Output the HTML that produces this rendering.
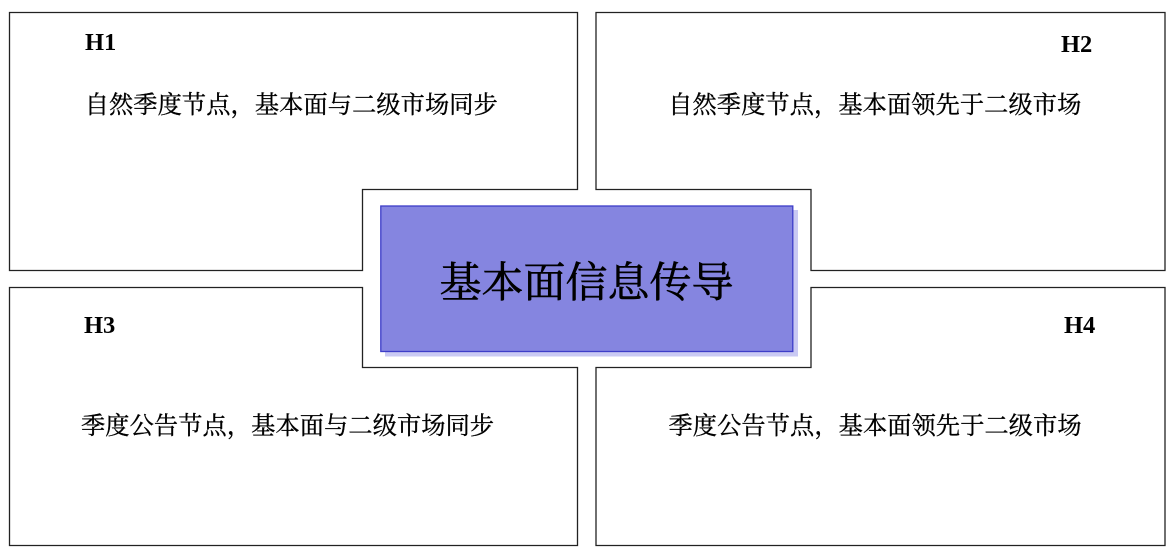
<!DOCTYPE html>
<html><head><meta charset="utf-8"><style>
html,body{margin:0;padding:0;background:#fff;width:1173px;height:549px;overflow:hidden}
svg{display:block}
.c{font-family:"Noto Serif CJK SC","Liberation Serif",serif;font-size:24.2px;letter-spacing:.12px;fill:#000;stroke:#000;stroke-width:.35px}
.h{font-family:"Liberation Serif",serif;font-size:24.5px;font-weight:bold;fill:#000}
</style></head><body>
<svg width="1173" height="549" viewBox="0 0 1173 549" xmlns="http://www.w3.org/2000/svg">
<g fill="#fff" stroke="#222" stroke-width="1.3">
<polygon points="9.5,12.5 577.5,12.5 577.5,189.5 362.5,189.5 362.5,270.5 9.5,270.5"/>
<polygon points="596,12.5 1165,12.5 1165,270.5 811,270.5 811,189.5 596,189.5"/>
<polygon points="9.5,287.500 362.5,287.500 362.5,367.5 577.5,367.5 577.5,545.5 9.5,545.5"/>
<polygon points="811,287.500 1165,287.500 1165,545.5 596,545.5 596,367.5 811,367.5"/>
</g>
<rect x="385" y="210" width="413" height="146.500" fill="#c9c9f3"/>
<rect x="380.800" y="206" width="412" height="145.500" fill="#8585e0" stroke="#3c3cc8" stroke-width="1.300"/>
<text class="h" x="85" y="50">H1</text>
<text class="h" x="1061" y="52">H2</text>
<text class="h" x="84" y="333">H3</text>
<text class="h" x="1064" y="333">H4</text>
<text class="c" x="84.700" y="113">自然季度节点&#65292;基本面与二级市场同步</text>
<text class="c" x="668.200" y="113">自然季度节点&#65292;基本面领先于二级市场</text>
<text class="c" x="81" y="434">季度公告节点&#65292;基本面与二级市场同步</text>
<text class="c" x="668.500" y="434">季度公告节点&#65292;基本面领先于二级市场</text>
<text x="439.500" y="297" style="font-family:'Noto Serif CJK SC','Liberation Serif',serif;font-size:42px;fill:#000;stroke:#000;stroke-width:.6px">基本面信息传导</text>
</svg>
</body></html>
